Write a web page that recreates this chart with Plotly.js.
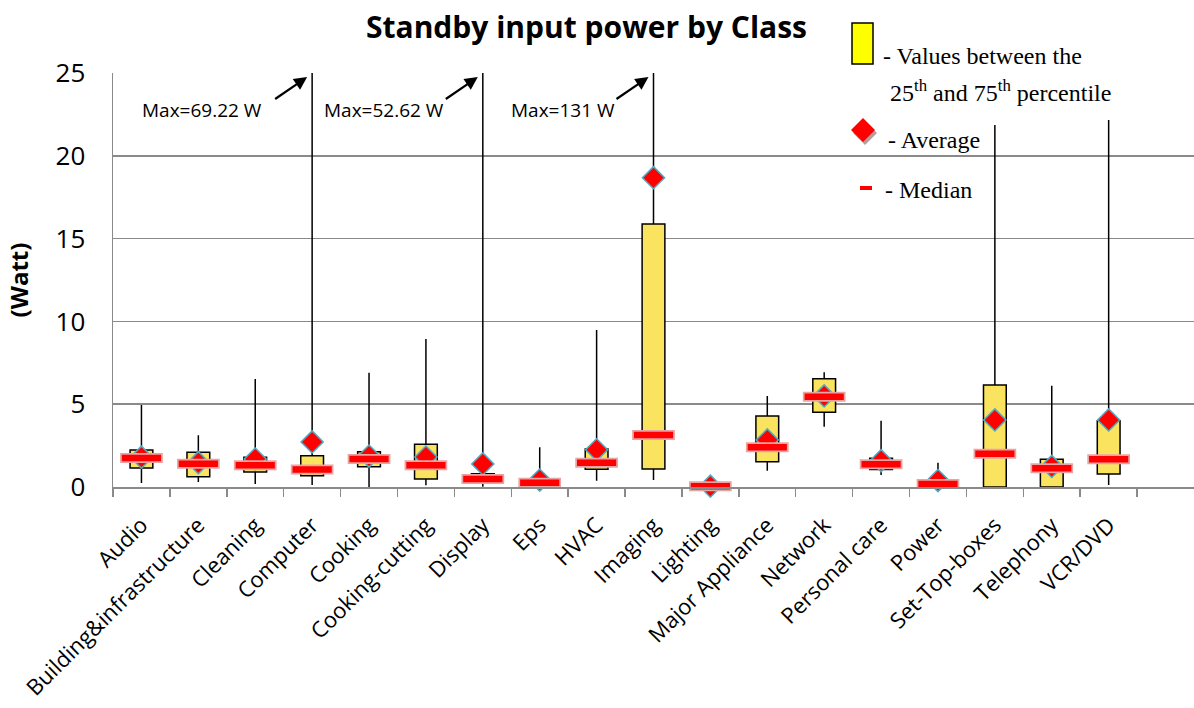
<!DOCTYPE html>
<html>
<head>
<meta charset="utf-8">
<script src="https://cdn.plot.ly/plotly-3.0.1.min.js"></script>
<style>html,body{margin:0;padding:0;background:#fff;}#chart{width:1194px;height:708px;}</style>
</head>
<body>
<div id="chart"></div>
<script>
// ---- data (Watt) ----
const categories = ['Audio','Building&infrastructure','Cleaning','Computer','Cooking','Cooking-cutting','Display','Eps','HVAC','Imaging','Lighting','Major Appliance','Network','Personal care','Power','Set-Top-boxes','Telephony','VCR/DVD'];
const minValues    = [0.24, 0.30, 0.18, 0.12, 0.00, 0.10, 0.02, 0.00, 0.38, 0.42, 0.00, 0.98, 3.64, 0.72, 0.00, 0.00, 0.00, 0.12];
const q1Values     = [1.15, 0.62, 0.90, 0.68, 1.23, 0.48, 0.22, 0.10, 1.07, 1.09, 0.00, 1.53, 4.51, 1.05, 0.05, 0.00, 0.00, 0.78];
const medianValues = [1.75, 1.41, 1.31, 1.05, 1.69, 1.31, 0.48, 0.26, 1.47, 3.14, 0.05, 2.40, 5.45, 1.37, 0.18, 2.01, 1.13, 1.67];
const q3Values     = [2.23, 2.10, 1.79, 1.89, 2.13, 2.58, 0.80, 0.42, 2.30, 15.88, 0.10, 4.29, 6.54, 1.73, 0.35, 6.16, 1.67, 4.00];
const maxValues    = [4.95, 3.12, 6.52, 69.22, 6.90, 8.94, 52.62, 2.40, 9.48, 131, 0.10, 5.50, 6.93, 4.00, 1.47, 21.86, 6.12, 22.16];
const meanValues   = [1.80, 1.47, 1.69, 2.72, 1.87, 1.81, 1.39, 0.42, 2.25, 18.68, 0.05, 2.84, 5.50, 1.59, 0.39, 4.05, 1.24, 4.05];
const yTicks = [0, 5, 10, 15, 20, 25];
const maxNotes = [
  {cat: 'Computer', label: 'Max=69.22 W'},
  {cat: 'Display',  label: 'Max=52.62 W'},
  {cat: 'Imaging',  label: 'Max=131 W'}
];

// ---- geometry helpers (pixel -> paper) ----
const L = 113, T = 73, PW = 1081, PH = 414;
const SLOTS = 19;
const px = p => (p - L) / PW;
const py = p => (T + PH - p) / PH;
const catPx = c => L + (categories.indexOf(c) + 0.5) * PW / SLOTS;

const traces = [
  {
    type: 'box', x: categories,
    q1: q1Values, median: medianValues, q3: q3Values,
    lowerfence: minValues, upperfence: maxValues,
    fillcolor: '#F9E35F', line: {color: '#000000', width: 1.5},
    whiskerwidth: 0, width: 0.4, boxpoints: false,
    hoverinfo: 'skip', showlegend: false
  },
  {
    type: 'scatter', mode: 'markers', x: categories, y: meanValues,
    marker: {symbol: 'diamond', size: 17, color: '#FF0000', line: {color: '#4BACC6', width: 1.5}},
    cliponaxis: false, showlegend: false, hoverinfo: 'y'
  },
  {
    type: 'scatter', mode: 'markers', x: categories, y: medianValues,
    marker: {symbol: 'line-ew', size: 30.5, color: '#E9A3A3', line: {color: '#E9A3A3', width: 10}},
    cliponaxis: false, showlegend: false, hoverinfo: 'skip'
  },
  {
    type: 'scatter', mode: 'markers', x: categories, y: medianValues,
    marker: {symbol: 'line-ew', size: 28, color: '#FF0000', line: {color: '#FF0000', width: 6.5}},
    cliponaxis: false, showlegend: false, hoverinfo: 'y'
  }
];

const annotations = [];
const shapes = [];
const textX = [140, 322, 509];
maxNotes.forEach((n, i) => {
  annotations.push({
    xref: 'paper', yref: 'paper', x: px(textX[i]), y: py(110),
    xanchor: 'left', yanchor: 'middle', showarrow: false, text: n.label,
    font: {family: 'Open Sans', size: 19, color: '#000'}
  });
  // arrow pointing at the clipped whisker top
  const tx = catPx(n.cat) - 5, ty = 77;
  const sx = tx - 32, sy = ty + 22;
  const len = Math.hypot(tx - sx, ty - sy);
  const dx = (tx - sx) / len, dy = (ty - sy) / len;
  const hl = 13, hw = 6.5;
  const bx = tx - hl * dx, by = ty - hl * dy;
  const nx = -dy, ny = dx;
  shapes.push({type:'line', xref:'paper', yref:'paper', x0: px(sx), y0: py(sy), x1: px(bx + dx), y1: py(by + dy), line:{color:'#000', width:2.2}});
  shapes.push({type:'path', xref:'paper', yref:'paper',
    path: 'M' + px(tx) + ',' + py(ty) + ' L' + px(bx + hw * nx) + ',' + py(by + hw * ny) + ' L' + px(bx - hw * nx) + ',' + py(by - hw * ny) + ' Z',
    fillcolor:'#000', line:{width:0}});
});
const serif = {family: 'Liberation Serif, Times New Roman, serif', size: 24, color: '#000'};
annotations.push({xref:'paper', yref:'paper', x: px(881), y: py(56), xanchor:'left', yanchor:'middle', showarrow:false, text:'- Values between the', font: serif});
annotations.push({xref:'paper', yref:'paper', x: px(888), y: py(91), xanchor:'left', yanchor:'middle', showarrow:false, text:'25<sup>th</sup> and 75<sup>th</sup> percentile', font: serif});
annotations.push({xref:'paper', yref:'paper', x: px(886), y: py(140), xanchor:'left', yanchor:'middle', showarrow:false, text:'- Average', font: serif});
annotations.push({xref:'paper', yref:'paper', x: px(883), y: py(190), xanchor:'left', yanchor:'middle', showarrow:false, text:'- Median', font: serif});

function diamondPath(cx, cy, r) {
  return 'M' + px(cx) + ',' + py(cy - r) + ' L' + px(cx + r) + ',' + py(cy) + ' L' + px(cx) + ',' + py(cy + r) + ' L' + px(cx - r) + ',' + py(cy) + ' Z';
}
shapes.push(
  {type:'rect', xref:'paper', yref:'paper', x0: px(852), x1: px(873), y0: py(64), y1: py(23), fillcolor:'#FFFF00', line:{color:'#000', width:1.5}},
  {type:'path', xref:'paper', yref:'paper', path: diamondPath(865, 133, 12), fillcolor:'#B39C9C', line:{width:0}},
  {type:'path', xref:'paper', yref:'paper', path: diamondPath(863, 130, 12), fillcolor:'#FF0000', line:{width:0}},
  {type:'rect', xref:'paper', yref:'paper', x0: px(860), x1: px(872), y0: py(190), y1: py(186), fillcolor:'#FF0000', line:{width:0}}
);

const layout = {
  width: 1194, height: 708,
  margin: {l: L, r: 0, t: T, b: 708 - T - PH},
  paper_bgcolor: '#ffffff', plot_bgcolor: '#ffffff',
  showlegend: false,
  title: {
    text: '<b>Standby input power by Class</b>',
    font: {family: 'Open Sans', size: 30, color: '#000'},
    x: 586.5 / 1194, xref: 'container', xanchor: 'center',
    y: 1 - 27 / 708, yref: 'container', yanchor: 'middle'
  },
  xaxis: {
    type: 'category', categoryorder: 'array', categoryarray: categories,
    range: [-0.5, SLOTS - 0.5], tickson: 'boundaries',
    ticks: 'outside', ticklen: 8, tickwidth: 1.5, tickcolor: '#8A8A8A',
    showline: true, linecolor: '#8A8A8A', linewidth: 1.5,
    showgrid: false, zeroline: false,
    tickangle: -45, ticklabelstandoff: 15,
    tickfont: {family: 'Open Sans', size: 22, color: '#000'}
  },
  yaxis: {
    range: [0, 25], tickvals: yTicks, ticktext: yTicks.map(String),
    showgrid: true, gridcolor: '#8A8A8A', gridwidth: 1.5,
    showline: true, linecolor: '#8A8A8A', linewidth: 1.5,
    zeroline: false, ticks: '', ticklabelstandoff: 21,
    tickfont: {family: 'Open Sans', size: 26, color: '#000'},
    title: {text: '<b>(Watt)</b>', standoff: 20, font: {family: 'Open Sans', size: 24, color: '#000'}}
  },
  annotations: annotations,
  shapes: shapes
};

Plotly.newPlot('chart', traces, layout, {displayModeBar: false, staticPlot: true});
</script>
</body>
</html>
